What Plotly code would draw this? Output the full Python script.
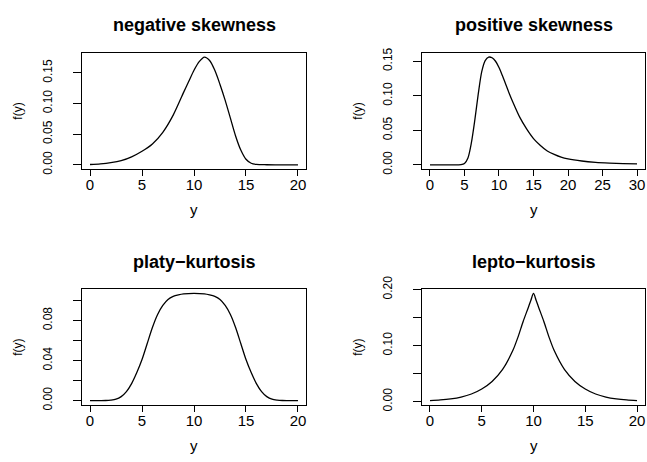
import plotly.graph_objects as go

# ---------------- data ----------------
neg_x = [0, 1, 2, 3, 4, 5, 6, 7, 8, 9, 9.5, 10, 10.5, 11, 11.5, 12, 12.5, 13,
         13.5, 14, 14.5, 15, 15.5, 16, 17, 18, 19, 20]
neg_y = [0.0005, 0.0015, 0.0035, 0.0068, 0.013, 0.022, 0.034, 0.053, 0.081,
         0.118, 0.136, 0.154, 0.168, 0.1755, 0.170, 0.154, 0.131, 0.105,
         0.076, 0.047, 0.024, 0.009, 0.0025, 0.0006, 0.0001, 0, 0, 0]

pos_x = [0, 1, 2, 3, 4, 4.5, 5, 5.5, 6, 6.5, 7, 7.5, 8, 8.5, 9, 9.5, 10, 10.5,
         11, 11.5, 12, 13, 14, 15, 16, 17, 18, 19, 20, 22, 24, 26, 28, 30]
pos_y = [0, 0, 0, 0, 0, 0.0002, 0.002, 0.010, 0.032, 0.065, 0.103, 0.135,
         0.151, 0.156, 0.155, 0.150, 0.141, 0.129, 0.116, 0.103, 0.091, 0.069,
         0.052, 0.038, 0.028, 0.020, 0.015, 0.011, 0.0085, 0.0055, 0.0036,
         0.0025, 0.0018, 0.0013]

platy_x = [0, 1, 1.5, 2, 2.5, 3, 3.5, 4, 4.5, 5, 5.5, 6, 6.5, 7, 7.5, 8, 8.5,
           9, 10, 11, 11.5, 12, 12.5, 13, 13.5, 14, 14.5, 15, 15.5, 16, 16.5,
           17, 17.5, 18, 18.5, 19, 20]
platy_y = [0, 0, 0.0001, 0.0005, 0.0014, 0.004, 0.009, 0.017, 0.028, 0.041,
           0.057, 0.073, 0.086, 0.095, 0.101, 0.104, 0.1055, 0.1065, 0.107,
           0.1065, 0.1055, 0.104, 0.101, 0.095, 0.086, 0.073, 0.057, 0.041,
           0.028, 0.017, 0.009, 0.004, 0.0014, 0.0005, 0.0001, 0, 0]

lepto_x = [0, 1, 2, 3, 4, 5, 6, 7, 8, 8.5, 9, 9.5, 9.75, 10, 10.25, 10.5, 11,
           11.5, 12, 13, 14, 15, 16, 17, 18, 19, 20]
lepto_y = [0.0017, 0.0029, 0.0049, 0.0081, 0.0135, 0.0225, 0.036, 0.057, 0.091,
           0.115, 0.143, 0.168, 0.181, 0.193, 0.181, 0.168, 0.143, 0.115,
           0.091, 0.057, 0.036, 0.0225, 0.0135, 0.0081, 0.0049, 0.0029, 0.0017]

titles = ["negative skewness", "positive skewness", "platy\u2212kurtosis", "lepto\u2212kurtosis"]

x_ticks = [[0, 5, 10, 15, 20], [0, 5, 10, 15, 20, 25, 30], [0, 5, 10, 15, 20], [0, 5, 10, 15, 20]]
y_ticks = [[0, 0.05, 0.10, 0.15], [0, 0.05, 0.10, 0.15],
           [0, 0.02, 0.04, 0.06, 0.08, 0.10], [0, 0.05, 0.10, 0.15, 0.20]]
y_ticktext = [["0.00", "0.05", "0.10", "0.15"], ["0.00", "0.05", "0.10", "0.15"],
              ["0.00", "", "0.04", "", "0.08", ""], ["0.00", "", "0.10", "", "0.20"]]

# ---------------- layout geometry (pixels) ----------------
W, H = 647, 462
boxes = [  # left, right, top, bottom
    (81.7, 306.3, 41.5, 162.8),
    (421.7, 645.3, 41.5, 162.8),
    (81.7, 306.3, 288.0, 408.7),
    (421.7, 645.3, 288.0, 408.7),
]
FONT = "Liberation Sans, Arial, Helvetica, sans-serif"

series = [(neg_x, neg_y), (pos_x, pos_y), (platy_x, platy_y), (lepto_x, lepto_y)]

fig = go.Figure()
annotations = []
layout_axes = {}


def padded(vals):
    lo, hi = min(vals), max(vals)
    d = (hi - lo) * 0.04
    return [lo - d, hi + d]


for i, ((xs, ys), (l, r, t, b)) in enumerate(zip(series, boxes)):
    n = i + 1
    xa = "x" if n == 1 else f"x{n}"
    ya = "y" if n == 1 else f"y{n}"
    fig.add_trace(go.Scatter(x=xs, y=ys, mode="lines", xaxis=xa, yaxis=ya,
                             line=dict(color="black", width=1.3, shape="spline", smoothing=0.8),
                             showlegend=False, hoverinfo="x+y"))
    xkey = "xaxis" if n == 1 else f"xaxis{n}"
    ykey = "yaxis" if n == 1 else f"yaxis{n}"
    layout_axes[xkey] = dict(
        domain=[l / W, r / W], anchor=ya, range=padded(xs),
        showgrid=False, zeroline=False, showline=True, mirror=True,
        linecolor="black", linewidth=1, ticks="outside", ticklen=6,
        tickcolor="black", tickwidth=1, tickvals=x_ticks[i],
        ticktext=[str(v) for v in x_ticks[i]],
        tickfont=dict(family=FONT, size=15, color="black"),
        ticklabelstandoff=-4,
    )
    layout_axes[ykey] = dict(
        domain=[1 - b / H, 1 - t / H], anchor=xa, range=padded(ys),
        showgrid=False, zeroline=False, showline=True, mirror=True,
        linecolor="black", linewidth=1, ticks="outside", ticklen=8,
        tickcolor="black", tickwidth=1, tickvals=y_ticks[i],
        ticktext=y_ticktext[i], tickangle=-90,
        tickfont=dict(family=FONT, size=12, color="black"),
        ticklabelstandoff=16,
    )
    cx = (l + r) / 2
    cy = (t + b) / 2
    # panel title
    annotations.append(dict(text=f"<b>{titles[i]}</b>", xref="paper", yref="paper",
                            x=cx / W, y=1 - (t - 28.5) / H, showarrow=False,
                            xanchor="center", yanchor="middle",
                            font=dict(family=FONT, size=18, color="black")))
    # x label
    annotations.append(dict(text="y", xref="paper", yref="paper",
                            x=cx / W, y=1 - (b + 42) / H, showarrow=False,
                            xanchor="center", yanchor="middle",
                            font=dict(family=FONT, size=15, color="black")))
    # y label
    annotations.append(dict(text="f(y)", xref="paper", yref="paper",
                            x=(l - 64) / W, y=1 - cy / H, showarrow=False,
                            textangle=-90, xanchor="center", yanchor="middle",
                            font=dict(family=FONT, size=12, color="black")))

fig.update_layout(
    width=W, height=H, margin=dict(l=0, r=0, t=0, b=0),
    paper_bgcolor="white", plot_bgcolor="white",
    annotations=annotations, **layout_axes,
)

fig.write_html("out.html", config={"displayModeBar": False},
               post_script="document.body.style.margin='0';document.body.style.overflow='hidden';")
